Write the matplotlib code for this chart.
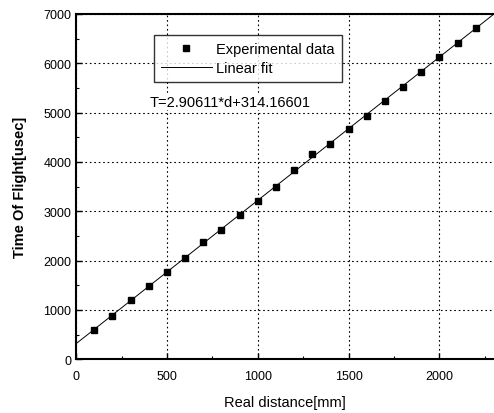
import matplotlib
matplotlib.use("Agg")
import matplotlib.pyplot as plt
import numpy as np

plt.rcParams['font.family'] = ['Liberation Sans', 'DejaVu Sans']

distance = [100, 200, 300, 400, 500, 600, 700, 800, 900, 1000, 1100,
            1200, 1300, 1400, 1500, 1600, 1700, 1800, 1900, 2000, 2100, 2200]
tof = [590, 880, 1190, 1480, 1770, 2050, 2370, 2620, 2920, 3210, 3500,
       3830, 4150, 4360, 4670, 4940, 5230, 5520, 5830, 6130, 6400, 6720]

# linear fit parameters
slope = 2.90611
intercept = 314.16601
fit_x = [0, 2300]

fig = plt.figure(figsize=(4.94, 4.14), dpi=100)
ax = fig.add_axes([0.154, 0.130, 0.846, 0.834])

fx = np.array(fit_x)
ax.plot(fx, slope * fx + intercept, color='black', lw=0.7, label='Linear fit', zorder=2)
ax.plot(distance, tof, 's', color='black', ms=5, label='Experimental data', zorder=3)

ax.set_xlim(0, 2300)
ax.set_ylim(0, 7000)
ax.set_xticks([0, 500, 1000, 1500, 2000])
ax.set_yticks([0, 1000, 2000, 3000, 4000, 5000, 6000, 7000])
ax.set_xticks([250, 750, 1250, 1750, 2250], minor=True)
ax.set_yticks([500, 1500, 2500, 3500, 4500, 5500, 6500], minor=True)
ax.tick_params(which='both', direction='in', labelsize=9, color='black')
ax.tick_params(which='major', length=4, width=1)
ax.tick_params(axis='x', which='major', pad=8)
ax.tick_params(which='minor', length=2, width=0.8)
ax.grid(True, which='major', linestyle=(0, (1.5, 2.5)), color='black', lw=0.8)
for s in ['left', 'bottom', 'top']:
    ax.spines[s].set_linewidth(1.5)
ax.spines['right'].set_visible(False)

ax.set_xlabel('Real distance[mm]', fontsize=10.5, labelpad=9)
ax.set_ylabel('Time Of Flight[usec]', fontsize=10.5, fontweight='bold', labelpad=12)

handles, labels = ax.get_legend_handles_labels()
leg = ax.legend(handles[::-1], labels[::-1], loc='upper left',
                bbox_to_anchor=(0.168, 0.96), fontsize=10.5, frameon=True,
                fancybox=False, edgecolor='black', handlelength=3.5,
                handletextpad=0.3, borderpad=0.5, labelspacing=0.3)
leg.get_frame().set_linewidth(1.0)
leg.set_zorder(5)

ax.text(0.176, 0.745, 'T=2.90611*d+314.16601', transform=ax.transAxes,
        fontsize=10.5, va='center', ha='left',
        bbox=dict(facecolor='white', edgecolor='none', pad=0.5))

fig.savefig('out.png', dpi=100)
